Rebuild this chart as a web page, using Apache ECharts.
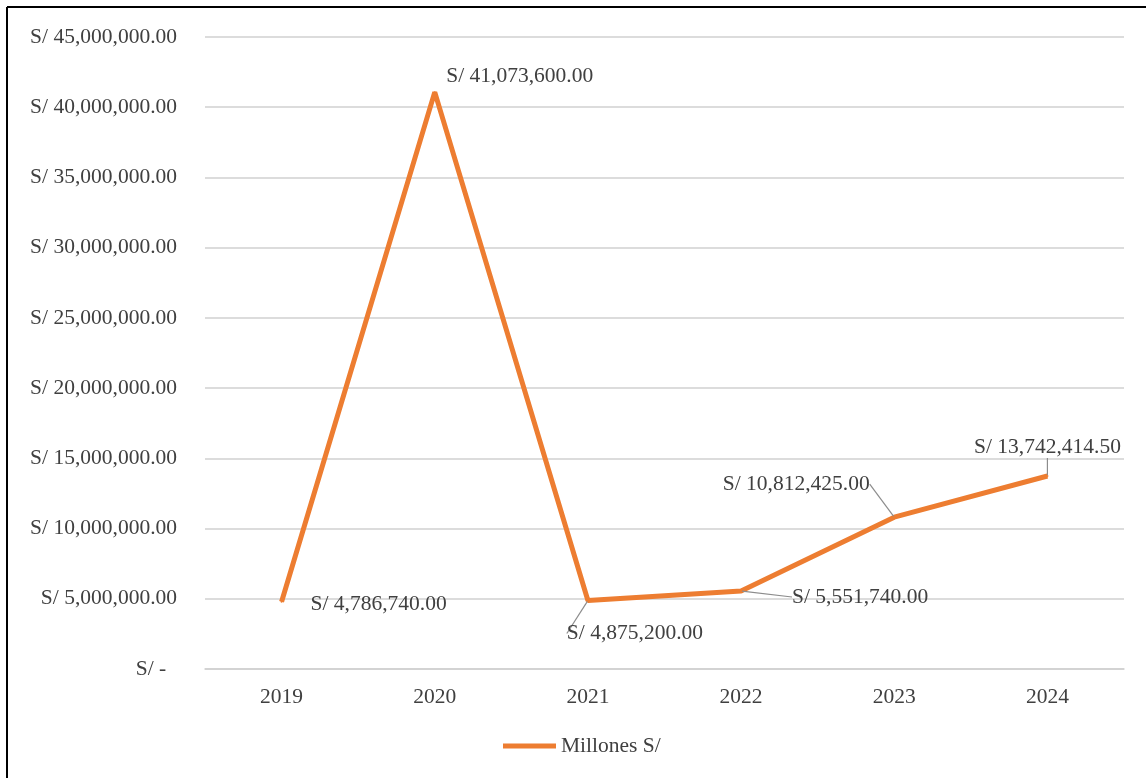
<!DOCTYPE html>
<html>
<head>
<meta charset="utf-8">
<script src="https://cdn.jsdelivr.net/npm/echarts@6/dist/echarts.min.js"></script>
<style>
html,body{margin:0;padding:0;background:#fff;}
#chart{width:1146px;height:778px;}
</style>
</head>
<body>
<div id="chart"></div>
<script>
var years = ['2019', '2020', '2021', '2022', '2023', '2024'];
var values = [4786740, 41073600, 4875200, 5551740, 10812425, 13742414.5];
var seriesName = 'Millones S/';
var yMax = 45000000;
var yStep = 5000000;
// label offsets (dx, dy) from default 'top' label position
var labelShifts = [[97, 20], [85, 1], [47, 50], [119, 23], [-98, -16], [0, -12]];
var showLeader = [false, false, true, true, true, true];

var FONT = "'Liberation Serif', 'Times New Roman', serif";
var TXT = '#404040';

function fmt(v) {
  return v.toLocaleString('en-US', {minimumFractionDigits: 2, maximumFractionDigits: 2});
}

var seriesData = values.map(function (v, i) {
  return {value: v, labelLine: {show: showLeader[i]}};
});

var chart = echarts.init(document.getElementById('chart'), null, {renderer: 'canvas'});
chart.setOption({
  backgroundColor: '#fff',
  animation: false,
  graphic: [
    {type: 'line', shape: {x1: 7, y1: 7, x2: 1146, y2: 7}, style: {stroke: '#000', lineWidth: 2}},
    {type: 'line', shape: {x1: 7, y1: 7, x2: 7, y2: 778}, style: {stroke: '#000', lineWidth: 2}}
  ],
  grid: {left: 205, right: 22, top: 37, bottom: 109, containLabel: false},
  legend: {
    data: [{name: seriesName, icon: 'rect'}],
    top: 730,
    left: 498,
    itemWidth: 53,
    itemHeight: 5,
    itemGap: 5,
    textStyle: {fontFamily: FONT, fontSize: 21.5, color: TXT}
  },
  xAxis: {
    type: 'category',
    data: years,
    boundaryGap: true,
    axisLine: {show: true, lineStyle: {color: '#d0d0d0', width: 1.5}},
    axisTick: {show: false},
    axisLabel: {fontFamily: FONT, fontSize: 21.5, color: TXT, margin: 17}
  },
  yAxis: {
    type: 'value',
    min: 0,
    max: yMax,
    interval: yStep,
    axisLine: {show: false},
    axisTick: {show: false},
    splitLine: {lineStyle: {color: '#d0d0d0', width: 1.5}},
    axisLabel: {
      fontFamily: FONT, fontSize: 21.5, color: TXT, margin: 28,
      formatter: function (v) { return v === 0 ? 'S/ -  ' : 'S/ ' + fmt(v); }
    }
  },
  series: [{
    name: seriesName,
    type: 'line',
    data: seriesData,
    symbol: 'circle',
    symbolSize: 2,
    showSymbol: true,
    color: '#ED7D31',
    lineStyle: {color: '#ED7D31', width: 5},
    itemStyle: {color: '#ED7D31'},
    label: {
      show: true,
      position: 'top',
      fontFamily: FONT, fontSize: 21.5, color: TXT,
      formatter: function (p) { return 'S/ ' + fmt(p.value); }
    },
    labelLine: {show: true, lineStyle: {color: '#8c8c8c', width: 1.2}},
    labelLayout: function (params) {
      var s = labelShifts[params.dataIndex];
      return {dx: s[0], dy: s[1]};
    }
  }]
});
</script>
</body>
</html>
